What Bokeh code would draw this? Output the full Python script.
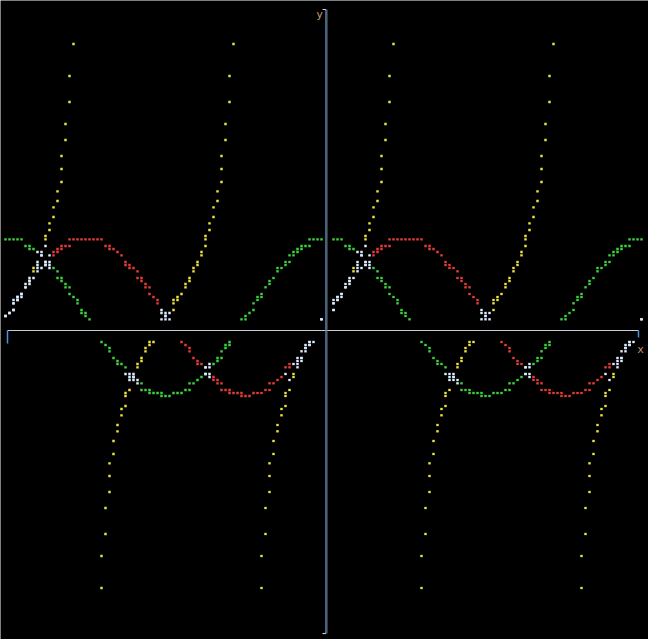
import math
from bokeh.plotting import figure
from bokeh.models import Range1d, ColumnDataSource, Label
from bokeh.embed import file_html
from bokeh.resources import INLINE

# ---------------- data ----------------
# One period of each curve, sampled every 2 degrees from 0 to 358.
# The picture shows two identical periods (x from -2pi to 2pi).
SIN_PERIOD = [
    0.0, 0.03, 0.07, 0.10, 0.14, 0.17, 0.21, 0.24, 0.28, 0.31,
    0.34, 0.37, 0.41, 0.44, 0.47, 0.50, 0.53, 0.56, 0.59, 0.62,
    0.64, 0.67, 0.69, 0.72, 0.74, 0.77, 0.79, 0.81, 0.83, 0.85,
    0.87, 0.88, 0.90, 0.91, 0.93, 0.94, 0.95, 0.96, 0.97, 0.98,
    0.98, 0.99, 0.99, 1.0, 1.0,
    1.0,
    1.0, 1.0, 0.99, 0.99, 0.98, 0.98, 0.97, 0.96, 0.95, 0.94,
    0.93, 0.91, 0.90, 0.88, 0.87, 0.85, 0.83, 0.81, 0.79, 0.77,
    0.74, 0.72, 0.69, 0.67, 0.64, 0.62, 0.59, 0.56, 0.53, 0.50,
    0.47, 0.44, 0.41, 0.37, 0.34, 0.31, 0.28, 0.24, 0.21, 0.17,
    0.14, 0.10, 0.07, 0.03,
    0.0,
    -0.03, -0.07, -0.10, -0.14, -0.17, -0.21, -0.24, -0.28, -0.31, -0.34,
    -0.37, -0.41, -0.44, -0.47, -0.50, -0.53, -0.56, -0.59, -0.62, -0.64,
    -0.67, -0.69, -0.72, -0.74, -0.77, -0.79, -0.81, -0.83, -0.85, -0.87,
    -0.88, -0.90, -0.91, -0.93, -0.94, -0.95, -0.96, -0.97, -0.98, -0.98,
    -0.99, -0.99, -1.0, -1.0,
    -1.0,
    -1.0, -1.0, -0.99, -0.99, -0.98, -0.98, -0.97, -0.96, -0.95, -0.94,
    -0.93, -0.91, -0.90, -0.88, -0.87, -0.85, -0.83, -0.81, -0.79, -0.77,
    -0.74, -0.72, -0.69, -0.67, -0.64, -0.62, -0.59, -0.56, -0.53, -0.50,
    -0.47, -0.44, -0.41, -0.37, -0.34, -0.31, -0.28, -0.24, -0.21, -0.17,
    -0.14, -0.10, -0.07, -0.03,
]

COS_PERIOD = [
    1.0, 1.0, 1.0, 0.99, 0.99, 0.98, 0.98, 0.97, 0.96, 0.95,
    0.94, 0.93, 0.91, 0.90, 0.88, 0.87, 0.85, 0.83, 0.81, 0.79,
    0.77, 0.74, 0.72, 0.69, 0.67, 0.64, 0.62, 0.59, 0.56, 0.53,
    0.50, 0.47, 0.44, 0.41, 0.37, 0.34, 0.31, 0.28, 0.24, 0.21,
    0.17, 0.14, 0.10, 0.07, 0.03,
    0.0,
    -0.03, -0.07, -0.10, -0.14, -0.17, -0.21, -0.24, -0.28, -0.31, -0.34,
    -0.37, -0.41, -0.44, -0.47, -0.50, -0.53, -0.56, -0.59, -0.62, -0.64,
    -0.67, -0.69, -0.72, -0.74, -0.77, -0.79, -0.81, -0.83, -0.85, -0.87,
    -0.88, -0.90, -0.91, -0.93, -0.94, -0.95, -0.96, -0.97, -0.98, -0.98,
    -0.99, -0.99, -1.0, -1.0,
    -1.0,
    -1.0, -1.0, -0.99, -0.99, -0.98, -0.98, -0.97, -0.96, -0.95, -0.94,
    -0.93, -0.91, -0.90, -0.88, -0.87, -0.85, -0.83, -0.81, -0.79, -0.77,
    -0.74, -0.72, -0.69, -0.67, -0.64, -0.62, -0.59, -0.56, -0.53, -0.50,
    -0.47, -0.44, -0.41, -0.37, -0.34, -0.31, -0.28, -0.24, -0.21, -0.17,
    -0.14, -0.10, -0.07, -0.03,
    0.0,
    0.03, 0.07, 0.10, 0.14, 0.17, 0.21, 0.24, 0.28, 0.31, 0.34,
    0.37, 0.41, 0.44, 0.47, 0.50, 0.53, 0.56, 0.59, 0.62, 0.64,
    0.67, 0.69, 0.72, 0.74, 0.77, 0.79, 0.81, 0.83, 0.85, 0.87,
    0.88, 0.90, 0.91, 0.93, 0.94, 0.95, 0.96, 0.97, 0.98, 0.98,
    0.99, 0.99, 1.0, 1.0,
]

TAN_PERIOD = [
    0.0, 0.03, 0.07, 0.11, 0.14, 0.18, 0.21, 0.25, 0.29, 0.32,
    0.36, 0.40, 0.45, 0.49, 0.53, 0.58, 0.62, 0.67, 0.73, 0.78,
    0.84, 0.90, 0.97, 1.04, 1.11, 1.19, 1.28, 1.38, 1.48, 1.60,
    1.73, 1.88, 2.05, 2.25, 2.48, 2.75, 3.08, 3.49, 4.01, 4.70,
    5.67, 7.12, 9.51, 14.30, 28.64,
    None,
    -28.64, -14.30, -9.51, -7.12, -5.67, -4.70, -4.01, -3.49, -3.08, -2.75,
    -2.48, -2.25, -2.05, -1.88, -1.73, -1.60, -1.48, -1.38, -1.28, -1.19,
    -1.11, -1.04, -0.97, -0.90, -0.84, -0.78, -0.73, -0.67, -0.62, -0.58,
    -0.53, -0.49, -0.45, -0.40, -0.36, -0.32, -0.29, -0.25, -0.21, -0.18,
    -0.14, -0.11, -0.07, -0.03,
    0.0,
    0.03, 0.07, 0.11, 0.14, 0.18, 0.21, 0.25, 0.29, 0.32, 0.36,
    0.40, 0.45, 0.49, 0.53, 0.58, 0.62, 0.67, 0.73, 0.78, 0.84,
    0.90, 0.97, 1.04, 1.11, 1.19, 1.28, 1.38, 1.48, 1.60, 1.73,
    1.88, 2.05, 2.25, 2.48, 2.75, 3.08, 3.49, 4.01, 4.70, 5.67,
    7.12, 9.51, 14.30, 28.64,
    None,
    -28.64, -14.30, -9.51, -7.12, -5.67, -4.70, -4.01, -3.49, -3.08, -2.75,
    -2.48, -2.25, -2.05, -1.88, -1.73, -1.60, -1.48, -1.38, -1.28, -1.19,
    -1.11, -1.04, -0.97, -0.90, -0.84, -0.78, -0.73, -0.67, -0.62, -0.58,
    -0.53, -0.49, -0.45, -0.40, -0.36, -0.32, -0.29, -0.25, -0.21, -0.18,
    -0.14, -0.11, -0.07, -0.03,
]

X_DEG = list(range(-360, 361, 2))          # sample positions, degrees
SERIES_NAMES = ["sin", "cos", "tan"]
AXIS_LABEL_X = "x"
AXIS_LABEL_Y = "y"

SERIES_VALUES = {
    "sin": SIN_PERIOD + SIN_PERIOD + SIN_PERIOD[:1],
    "cos": COS_PERIOD + COS_PERIOD + COS_PERIOD[:1],
    "tan": TAN_PERIOD + TAN_PERIOD + TAN_PERIOD[:1],
}

# ---------------- styles / layout ----------------
SERIES_COLORS = {"sin": "#e63c36", "cos": "#3ad43a", "tan": "#ece040"}
OVERLAP_COLOR = "#dcecff"
BG = "#000000"
XAXIS_COLOR = "#c8ccd8"
YAXIS_COLOR = "#4f8fdc"
YAXIS_EDGE = "#9a6a3a"
LABEL_COLOR = "#c89a6c"

W, H = 648, 639
PAGE = 0
X_ZERO = 326.0            # page px of x = 0
PX_PER_DEG = 320.0 / 360.0
Y_ZERO = 317.0            # page px of y = 0
PX_PER_UNIT = 78.0
CELL_W, CELL_H = 8, 16    # emulated terminal character cell
GRID_X0, GRID_Y0 = 3, 3
N_COLS, N_ROWS = 80, 39
AXIS_COL, AXIS_ROW = 40, 20
FIRST_ROW = 1
SUB_X = [2.0, 6.0]
SUB_Y = [2.5, 5.5, 8.5, 11.8]


def to_page(xd, y):
    return X_ZERO + xd * PX_PER_DEG, Y_ZERO - y * PX_PER_UNIT


def to_data(X, Y):
    return (X - X_ZERO) / PX_PER_DEG, (Y_ZERO - Y) / PX_PER_UNIT


# braille-like dot canvas emulation
cell_series = {}
dots = {}
for name in SERIES_NAMES:
    for xd, y in zip(X_DEG, SERIES_VALUES[name]):
        if y is None:
            continue
        X, Y = to_page(xd, y)
        dc = math.floor((X - GRID_X0) / (CELL_W / 2))
        dr = math.floor((Y - GRID_Y0) / (CELL_H / 4))
        cc, cr = dc // 2, dr // 4
        if not (0 <= cc < N_COLS and FIRST_ROW <= cr < N_ROWS):
            continue
        if cc == AXIS_COL or cr == AXIS_ROW:
            continue
        cell_series.setdefault((cc, cr), set()).add(name)
        dots.setdefault(name, set()).add((dc, dr))

xs, ys, cols = [], [], []
for name in SERIES_NAMES:
    for dc, dr in sorted(dots.get(name, ())):
        cc, cr = dc // 2, dr // 4
        X = GRID_X0 + cc * CELL_W + SUB_X[dc % 2]
        Y = GRID_Y0 + cr * CELL_H + SUB_Y[dr % 4]
        xd, yv = to_data(X, Y)
        xs.append(xd)
        ys.append(yv)
        cols.append(OVERLAP_COLOR if len(cell_series[(cc, cr)]) > 1 else SERIES_COLORS[name])

src = ColumnDataSource(dict(x=xs, y=ys, c=cols))

x0, y_top = to_data(PAGE, PAGE)
x1, y_bot = to_data(PAGE + W, PAGE + H)

p = figure(width=W, height=H, output_backend="svg", toolbar_location=None,
           x_range=Range1d(x0, x1), y_range=Range1d(y_bot, y_top),
           x_axis_location=None, y_axis_location=None,
           background_fill_color=BG, border_fill_color=BG,
           outline_line_color=None, min_border=0)
p.min_border_left = p.min_border_right = p.min_border_top = p.min_border_bottom = 0
p.grid.visible = False

p.rect(x="x", y="y", width=2.5, height=2.3, width_units="screen", height_units="screen",
       fill_color="c", line_color=None, source=src)

# x axis (row AXIS_ROW), with end hooks
ax_y = GRID_Y0 + AXIS_ROW * CELL_H + 7
ax_l = GRID_X0 + CELL_W / 2
ax_r = GRID_X0 + (N_COLS - 1) * CELL_W + 3
lx, ly = to_data(ax_l, ax_y)
rx, _ = to_data(ax_r, ax_y)
p.segment(x0=[lx], y0=[ly], x1=[rx], y1=[ly], line_color=XAXIS_COLOR, line_width=1.2)
_, ly_end = to_data(ax_l, ax_y + 13)
_, ry_end = to_data(ax_r, ax_y + 7)
p.segment(x0=[lx, rx], y0=[ly, ly], x1=[lx, rx], y1=[ly_end, ry_end],
          line_color=YAXIS_COLOR, line_width=1.5)

# y axis (column AXIS_COL), with end hooks
yx = X_ZERO - 0.5
top_y, bot_y = 9, 633
vx, vt = to_data(yx, top_y)
_, vb = to_data(yx, bot_y)
ex, _ = to_data(yx + 1.3, top_y)
hx, _ = to_data(yx - 3.5, top_y)
p.segment(x0=[vx], y0=[vt], x1=[vx], y1=[vb], line_color=YAXIS_COLOR, line_width=1.4)
p.segment(x0=[ex], y0=[vt], x1=[ex], y1=[vb], line_color=YAXIS_EDGE, line_width=0.6)
p.segment(x0=[hx, hx], y0=[vt, vb], x1=[vx, vx], y1=[vt, vb],
          line_color=XAXIS_COLOR, line_width=1.2)

# axis names
yl_x, yl_y = to_data(319, 14)
xl_x, xl_y = to_data(640, 349)
p.add_layout(Label(x=yl_x, y=yl_y, text=AXIS_LABEL_Y, text_color=LABEL_COLOR,
                   text_font="DejaVu Sans Mono", text_font_size="11px",
                   text_align="center", text_baseline="alphabetic"))
p.add_layout(Label(x=xl_x, y=xl_y, text=AXIS_LABEL_X, text_color=LABEL_COLOR,
                   text_font="DejaVu Sans Mono", text_font_size="11px",
                   text_align="center", text_baseline="alphabetic"))

open("out.html", "w").write(file_html(p, INLINE))
